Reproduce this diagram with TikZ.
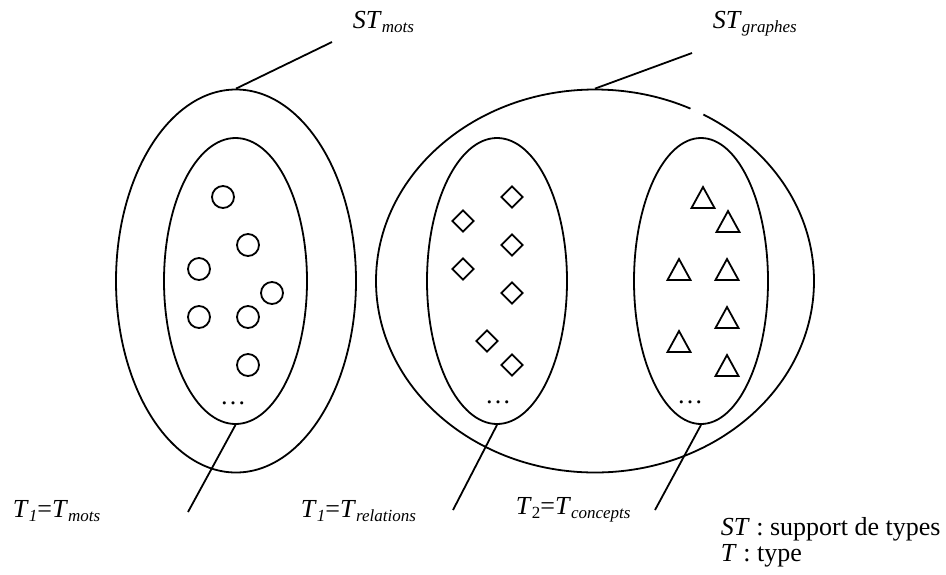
\documentclass[tikz,border=0pt]{standalone}
\usepackage{fontspec}
\setmainfont{Liberation Serif}
\usetikzlibrary{shapes.geometric}
\newcommand{\tsub}[1]{\raisebox{-0.35ex}{\fontsize{8.5}{10}\selectfont #1}}
\begin{document}
\begin{tikzpicture}[x=0.5pt,y=-0.5pt,line width=0.9pt,
  every node/.style={font=\fontsize{13}{15}\selectfont},
  ens/.style={draw, ellipse, inner sep=0pt},
  elt/.style={draw, circle, minimum size=11pt, inner sep=0pt},
  rel/.style={draw, diamond, minimum width=11pt, minimum height=11pt, inner sep=0pt},
  con/.style={draw, isosceles triangle, isosceles triangle stretches, shape border rotate=90,
    minimum width=11.5pt, minimum height=10.5pt, inner sep=0pt, outer sep=0pt, anchor=apex},
  lbl/.style={anchor=base west, inner sep=0pt},
  pts/.style={anchor=base, inner sep=0pt}]
\useasboundingbox (0,0) rectangle (946,574);
% ensembles
\node[ens, minimum width=120pt, minimum height=191.5pt] (mots) at (236,281) {};
\node[ens, minimum width=71.5pt, minimum height=143pt] (motsin) at (235.5,281) {};
\node[ens, minimum width=219pt, minimum height=191.5pt] (graphes) at (595,281) {};
\node[ens, minimum width=70pt, minimum height=143pt] (relin) at (497,281) {};
\node[ens, minimum width=67pt, minimum height=143pt] (conin) at (701,281) {};
\draw[white, line width=2.5pt] (graphes.57.8) -- (graphes.61.1);
% mots
\node[elt] (m1) at (223,197) {};
\node[elt] (m2) at (248,245) {};
\node[elt] (m3) at (199,269) {};
\node[elt] (m4) at (272,293) {};
\node[elt] (m5) at (199,317) {};
\node[elt] (m6) at (248,317) {};
\begin{scope}
\clip (200,340) rectangle (300,376);
\node[elt] (m7) at (248,365) {};
\end{scope}
\node[pts] (mdots) at (233,404) {…};
% relations
\node[rel] (r1) at (512,197) {};
\node[rel] (r2) at (463,221) {};
\node[rel] (r3) at (512,245) {};
\node[rel] (r4) at (463,269) {};
\node[rel] (r5) at (512,293) {};
\node[rel] (r6) at (487,341) {};
\node[rel] (r7) at (512,365) {};
\node[pts] (rdots) at (498,403) {…};
% concepts
\node[con] (c1) at (703,187) {};
\node[con] (c2) at (728,211) {};
\node[con] (c3) at (679,259) {};
\node[con] (c4) at (727,259) {};
\node[con] (c5) at (727,307) {};
\node[con] (c6) at (679,331) {};
\node[con] (c7) at (727,355) {};
\node[pts] (cdots) at (690,403) {…};
% etiquettes
\node[lbl] (stmots) at (352,28) {\textit{ST}\tsub{\textit{mots}}};
\node[lbl] (stgraphes) at (712,28) {\textit{ST}\tsub{\textit{graphes}}};
\node[lbl] (tmots) at (12,517) {\textit{T}\tsub{\textit{1}}=\textit{T}\tsub{\textit{mots}}};
\node[lbl] (trel) at (300,517) {\textit{T}\tsub{\textit{1}}=\textit{T}\tsub{\textit{relations}}};
\node[lbl] (tcon) at (515,514) {\textit{T}\tsub{2}=\textit{T}\tsub{\textit{concepts}}};
\node[lbl] (leg1) at (720,535) {\textit{ST} : support de types};
\node[lbl] (leg2) at (720,561) {\textit{T} : type};
\coordinate (pm) at (332,42);
\coordinate (pg) at (692,53);
\coordinate (qm) at (188,512);
\coordinate (qr) at (453,510);
\coordinate (qc) at (655,510);
\path[draw] (mots.north) -- (pm);
\path[draw] (graphes.north) -- (pg);
\path[draw] (motsin.south) -- (qm);
\path[draw] (relin.south) -- (qr);
\path[draw] (conin.south) -- (qc);
\end{tikzpicture}
\end{document}
